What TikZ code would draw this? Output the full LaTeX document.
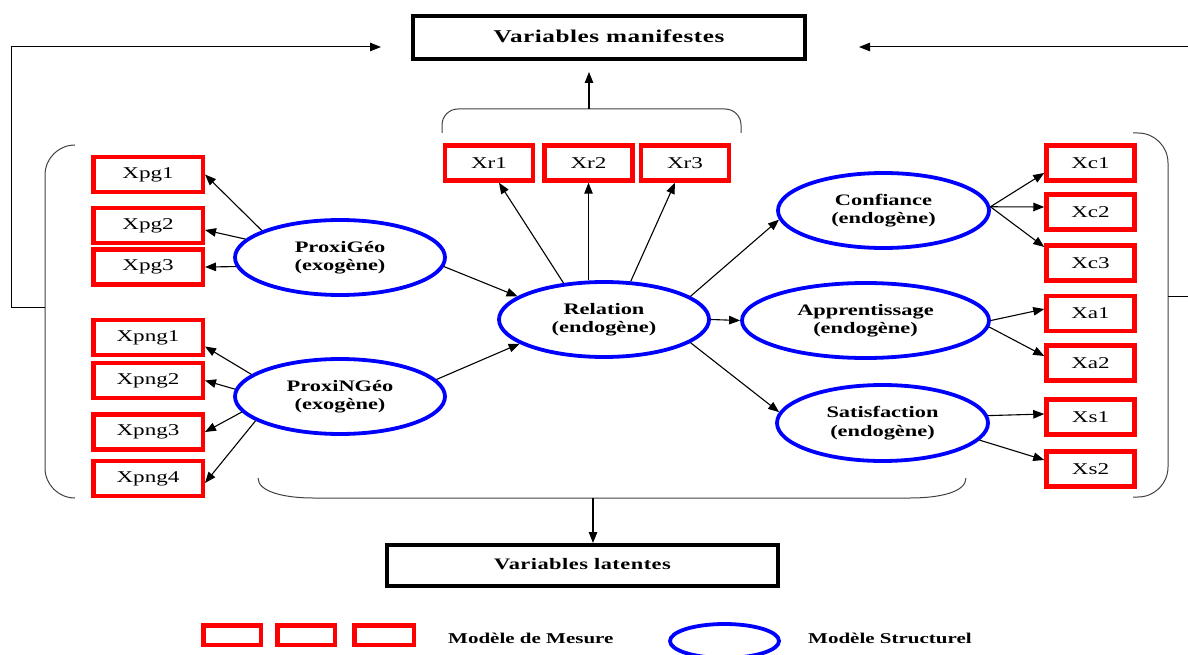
\documentclass[tikz,border=0pt]{standalone}
\usepackage{fontspec}
\setmainfont{Liberation Serif}[FakeStretch=1.4]
\newfontfamily\hdrfont{Liberation Serif}[FakeStretch=1.4,LetterSpace=3]
\usetikzlibrary{arrows.meta,shapes.geometric}
\definecolor{rboxc}{RGB}{255,0,0}
\definecolor{bellc}{RGB}{0,0,255}
\begin{document}
\begin{tikzpicture}[x=1pt,y=-1pt,
 mbox/.style={draw=rboxc,line width=4.5pt,minimum width=88pt,minimum height=35pt,inner sep=0pt,font=\fontsize{16.5}{18}\selectfont},
 gbox/.style={mbox,minimum width=109.5pt},
 lvar/.style={draw=bellc,ellipse,line width=3.8pt,inner sep=0pt,align=center,font=\fontsize{16}{18.5}\selectfont\bfseries,minimum width=210pt,minimum height=75pt},
 hbox/.style={draw=black,line width=4pt,inner sep=0pt},
 arr/.style={-{Triangle[length=11pt,width=8.5pt]},line width=1.1pt},
 brk/.style={line width=1pt,draw=black!75}
]
\useasboundingbox (0,0) rectangle (1188,655);
\clip (0,0) rectangle (1188,655);

% header boxes
\node[hbox,minimum width=392pt,minimum height=43pt] (vm) at (609,37.5)
  {\raisebox{3pt}{\fontsize{18}{20}\selectfont\hdrfont\bfseries Variables manifestes}};
\node[hbox,minimum width=391pt,minimum height=41pt] (vl) at (582.5,565.5)
  {\raisebox{4pt}{\fontsize{16}{18}\selectfont\hdrfont\bfseries Variables latentes}};

% measurement boxes, left
\node[gbox] (xpg1) at (148,174.5) {Xpg1};
\node[gbox] (xpg2) at (148,225.5) {Xpg2};
\node[gbox] (xpg3) at (148,267) {Xpg3};
\node[gbox] (xpng1) at (148,337.5) {Xpng1};
\node[gbox] (xpng2) at (148,380.5) {Xpng2};
\node[gbox] (xpng3) at (148,432) {Xpng3};
\node[gbox] (xpng4) at (148,478.5) {Xpng4};
% top
\node[mbox] (xr1) at (489,163) {Xr1};
\node[mbox] (xr2) at (588.5,163) {Xr2};
\node[mbox] (xr3) at (685,163) {Xr3};
% right
\node[mbox] (xc1) at (1090.5,163) {Xc1};
\node[mbox] (xc2) at (1090.5,212) {Xc2};
\node[mbox] (xc3) at (1090.5,263) {Xc3};
\node[mbox] (xa1) at (1090.5,313.5) {Xa1};
\node[mbox] (xa2) at (1090.5,363) {Xa2};
\node[mbox] (xs1) at (1090.5,417) {Xs1};
\node[mbox] (xs2) at (1090.5,469) {Xs2};

% latent variables
\node[lvar] (pg) at (340,257.5) {ProxiGéo\\(exogène)};
\node[lvar] (png) at (340,396.5) {ProxiNGéo\\(exogène)};
\node[lvar] (rel) at (604,319.5) {Relation\\(endogène)};
\node[lvar,minimum width=211pt] (conf) at (883.5,210.5) {Confiance\\(endogène)};
\node[lvar,minimum width=247pt] (app) at (865.5,320.5) {Apprentissage\\(endogène)};
\node[lvar,minimum width=211pt,minimum height=76pt] (sat) at (882.5,423) {Satisfaction\\(endogène)};

% measurement arrows
\draw[arr] (pg.161.8) -- (xpg1.east);
\draw[arr] (pg.169.6) -- ([yshift=-4.5pt]xpg2.east);
\draw[arr] (pg.185.3) -- (xpg3.east);
\draw[arr] (png.166.7) -- ([yshift=-9pt]xpng1.east);
\draw[arr] (png.176.8) -- (xpng2.east);
\draw[arr] (png.189) -- (xpng3.east);
\draw[arr] (png.196.6) -- ([yshift=-4.5pt]xpng4.east);
\draw[arr] (rel.138.4) -- ([xshift=10pt]xr1.south);
\draw[arr] (rel.north -| xr2.south) -- (xr2.south);
\draw[arr] (rel.55) -- ([xshift=-10pt]xr3.south);
\draw[arr] (conf.2) -- ([yshift=-10pt]xc1.west);
\draw[arr] (conf.2) -- ([yshift=5pt]xc2.west);
\draw[arr] (conf.2) -- ([yshift=16pt]xc3.west);
\draw[arr] (app.east) -- ([yshift=4.5pt]xa1.west);
\draw[arr] (app.-3) -- ([yshift=7pt]xa2.west);
\draw[arr] (sat.4.9) -- ([yshift=3pt]xs1.west);
\draw[arr] (sat.-10.3) -- ([yshift=9pt]xs2.west);

% structural arrows
\draw[arr] (pg.-5.9) -- (rel.165);
\draw[arr] (png.10.4) -- (rel.196.2);
\draw[arr] (rel.15.7) -- (conf.185.4);
\draw[arr] (rel.east) -- (app.west);
\draw[arr] (rel.-15.7) -- (sat.174.6);

% brackets
\draw[brk,rounded corners=16pt] (442,133) -- (442,109) -- (741,109) -- (741,133);
\coordinate (tbr) at (589,109);
\draw[arr] (tbr) -- ([xshift=-20pt]vm.south) [shorten >=11pt];

\draw[brk,rounded corners=30pt] (75,145) -- (45,145) -- (45,498) -- (75,498);
\coordinate (lbr) at (45,307);
\coordinate (lup) at (11.5,47);
\draw[arr,line width=1pt] (lbr) -- (11.5,307) -- (lup) -- ([xshift=-30pt]vm.west |- lup);

\draw[brk,rounded corners=30pt] (1133,133) -- (1168,133) -- (1168,497) -- (1133,497);
\coordinate (rbr) at (1168,296);
\coordinate (rup) at (1192,47);
\draw[arr,line width=1pt] (rbr) -- (1192,296) -- (rup) -- ([xshift=52pt]vm.east |- rup);

\draw[brk] (258,478) .. controls (258,492) and (285,498) .. (313,498) -- (910,498)
  .. controls (940,498) and (966,492) .. (966,478);
\coordinate (bbr) at (593,498);
\draw[arr] (bbr) -- ([xshift=10.5pt]vl.north);

% legend
\node[mbox,minimum width=57.5pt,minimum height=19.5pt] (lg1) at (232,635) {};
\node[mbox,minimum width=57.5pt,minimum height=19.5pt] (lg2) at (306,635) {};
\node[mbox,minimum width=59.5pt,minimum height=19.5pt] (lg3) at (384,635) {};
\node[anchor=west,inner sep=0pt,font=\fontsize{15}{17}\selectfont\bfseries] (lgt1) at (448,638) {Modèle de Mesure};
\node[draw=bellc,ellipse,line width=3.8pt,minimum width=109pt,minimum height=34pt,inner sep=0pt] (lge) at (724.5,641) {};
\node[anchor=west,inner sep=0pt,font=\fontsize{15}{17}\selectfont\bfseries] (lgt2) at (808,638) {Modèle Structurel};
\end{tikzpicture}
\end{document}
